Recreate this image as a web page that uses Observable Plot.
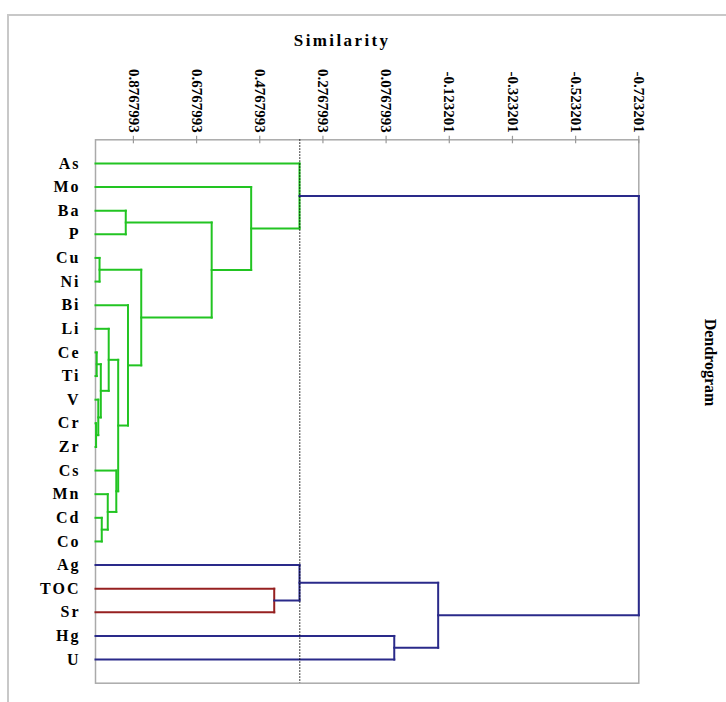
<!DOCTYPE html>
<html><head><meta charset="utf-8">
<script src="https://cdn.jsdelivr.net/npm/d3@7"></script>
<script src="https://cdn.jsdelivr.net/npm/@observablehq/plot@0.6"></script>
<style>
html,body{margin:0;padding:0;overflow:hidden;background:#fff;width:726px;height:702px;}
#wrap{position:relative;width:726px;height:702px;}
#border{position:absolute;left:7px;top:14px;width:800px;height:800px;border-left:2px solid #c8c8c8;border-top:2px solid #c8c8c8;}
#chart{position:absolute;left:0;top:0;}
</style></head><body>
<div id="wrap"><div id="border"></div><div id="chart"></div></div>
<script>
// Leaves, top to bottom
const leaves = ["As","Mo","Ba","P","Cu","Ni","Bi","Li","Ce","Ti","V","Cr","Zr","Cs","Mn","Cd","Co","Ag","TOC","Sr","Hg","U"];
// Merge steps: node #k joins mergeLeft[k-1] and mergeRight[k-1] at mergeSimilarity[k-1]
const mergeLeft  = ["Ce","Cr","V","#1","Li","Cd","Mn","Cs","#5","Bi","Cu","#11","Ba","#13","Mo","As","TOC","Ag","Hg","#18","#16"];
const mergeRight = ["Ti","Zr","#2","#3","#4","Co","#6","#7","#8","#9","Ni","#10","P","#12","#14","#15","Sr","#17","U","#19","#20"];
const mergeSimilarity = [0.993,0.995,0.988,0.980,0.955,0.977,0.958,0.931,0.925,0.894,0.984,0.852,0.901,0.629,0.504,0.351,0.431,0.351,0.051,-0.088,-0.723201];
const mergeGroup = ["A","A","A","A","A","A","A","A","A","A","A","A","A","A","A","A","B","C","C","C","C"];
const groupNames = ["A","B","C"];
const groupColors = ["#22c422","#962020","#2a2a8a"];
// Axis
const xDomain = [0.9967993, -0.723201];
const xTicks = [0.8767993,0.6767993,0.4767993,0.2767993,0.0767993,-0.123201,-0.323201,-0.523201,-0.723201];
const xTickLabels = ["0.8767993","0.6767993","0.4767993","0.2767993","0.0767993","-0.123201","-0.323201","-0.523201","-0.723201"];
const cutLevel = 0.350;

const tickMap = new Map(xTicks.map((v,i)=>[v,xTickLabels[i]]));

// Build dendrogram segments
const pos = new Map(leaves.map((n,i)=>[n,{y:i,h:xDomain[0]}]));
const segs = [];
mergeLeft.forEach((a,k)=>{
  const b = mergeRight[k], h = mergeSimilarity[k], g = mergeGroup[k];
  const A = pos.get(a), B = pos.get(b);
  segs.push({x1:A.h,y1:A.y,x2:h,y2:A.y,g});
  segs.push({x1:B.h,y1:B.y,x2:h,y2:B.y,g});
  segs.push({x1:h,y1:A.y,x2:h,y2:B.y,g});
  pos.set("#"+(k+1),{y:(A.y+B.y)/2,h});
});

const W=726,H=702,mL=95,mR=87.7,mT=139.3,mB=19.3;
const innerH = H-mT-mB;
const font = '"Liberation Serif","Times New Roman",serif';

const chart = Plot.plot({
  width:W,height:H,marginLeft:mL,marginRight:mR,marginTop:mT,marginBottom:mB,
  style:{fontFamily:font,fontWeight:"bold",background:"transparent",color:"#000",overflow:"visible"},
  x:{domain:xDomain},
  y:{domain:[-1,leaves.length],reverse:true},
  color:{domain:groupNames,range:groupColors},
  marks:[
    Plot.frame({stroke:"#aaa",strokeWidth:1.5}),
    Plot.ruleX(xTicks,{insetTop:-3.5,insetBottom:innerH-4,stroke:"#999",strokeWidth:1.2}),
    Plot.axisX({anchor:"top",ticks:xTicks,tickFormat:d=>tickMap.get(d),tickRotate:90,tickSize:0,tickPadding:7,fontSize:15,label:null}),
    Plot.axisY({ticks:d3.range(leaves.length),tickFormat:i=>leaves[i],tickSize:0,tickPadding:15,fontSize:16,label:null}),
    Plot.link(segs,{x1:"x1",y1:"y1",x2:"x2",y2:"y2",stroke:"g",strokeWidth:2,strokeLinecap:"square"}),
    Plot.ruleX([cutLevel],{stroke:"#000",strokeDasharray:"1.5,1.5",strokeWidth:1}),
    Plot.text(["Similarity"],{text:d=>d,frameAnchor:"top",dx:-25,dy:-99.3,lineAnchor:"middle",fontSize:17,fill:"#000"}),
    Plot.text(["Dendrogram"],{text:d=>d,frameAnchor:"right",dx:71.7,dy:-49,rotate:90,lineAnchor:"middle",textAnchor:"middle",fontSize:16,fill:"#000"})
  ]
});
document.getElementById("chart").appendChild(chart);
const svg = d3.select(chart);
svg.selectAll('g[aria-label="y-axis tick label"] text').style("letter-spacing","2px");
svg.selectAll("text").filter(function(){return this.textContent==="Similarity";}).style("letter-spacing","2.4px");
</script>
</body></html>
